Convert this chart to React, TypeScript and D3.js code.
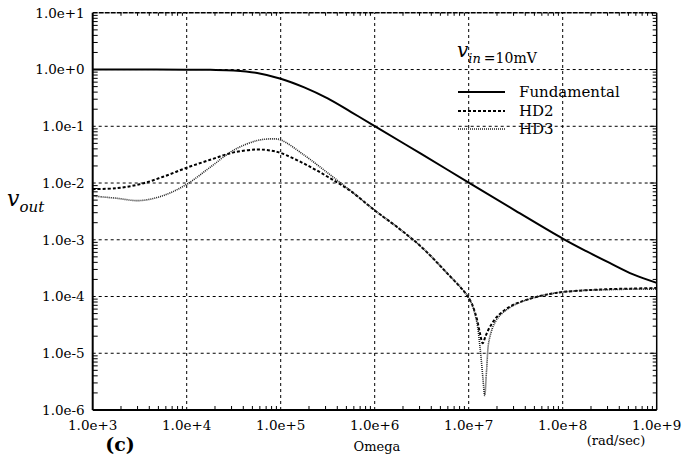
import React from "react";
import * as d3 from "d3";

// omega (rad/sec) and magnitudes
const fundOmega = [1e3, 3.16e3, 1e4, 1.78e4, 3.16e4, 5.62e4, 1e5, 1.78e5, 3.16e5, 5.62e5, 1e6, 3.16e6, 1e7, 3.16e7, 1e8, 1.78e8, 3.16e8, 5.62e8, 1e9];
const fundValues = [1.0, 1.0, 0.995, 0.989, 0.966, 0.871, 0.69, 0.485, 0.31, 0.178, 0.101, 0.0322, 0.0102, 3.24e-3, 1.05e-3, 6.3e-4, 3.9e-4, 2.45e-4, 1.74e-4];

const hd2Omega = [1e3, 1.78e3, 3.16e3, 5.62e3, 1e4, 1.78e4, 3.16e4, 5.62e4, 7.94e4, 1e5, 1.78e5, 3.16e5, 5.62e5, 1e6, 1.78e6, 3.16e6, 5.62e6, 1e7, 1.2e7, 1.32e7, 1.41e7, 1.51e7, 1.66e7, 2e7, 2.82e7, 4.47e7, 7.08e7, 1e8, 1.78e8, 3.16e8, 5.62e8, 1e9];
const hd2Values = [7.8e-3, 8.1e-3, 9.5e-3, 1.29e-2, 1.86e-2, 2.57e-2, 3.47e-2, 3.89e-2, 3.72e-2, 3.39e-2, 2.19e-2, 1.29e-2, 7.1e-3, 3.3e-3, 1.62e-3, 7.4e-4, 2.8e-4, 9.5e-5, 4.5e-5, 2.2e-5, 1.5e-5, 2.0e-5, 2.8e-5, 4.4e-5, 6.8e-5, 9.1e-5, 1.1e-4, 1.2e-4, 1.29e-4, 1.35e-4, 1.38e-4, 1.41e-4];

const hd3Omega = [1e3, 1.78e3, 3.16e3, 5.62e3, 1e4, 1.78e4, 3.16e4, 5.62e4, 7.94e4, 1e5, 1.78e5, 3.16e5, 5.62e5, 1e6, 1.78e6, 3.16e6, 5.62e6, 1e7, 1.2e7, 1.32e7, 1.41e7, 1.48e7, 1.55e7, 1.66e7, 2e7, 2.82e7, 4.47e7, 7.08e7, 1e8, 1.78e8, 3.16e8, 5.62e8, 1e9];
const hd3Values = [5.9e-3, 5.4e-3, 4.9e-3, 6.0e-3, 9.5e-3, 1.9e-2, 3.8e-2, 5.6e-2, 6.0e-2, 5.75e-2, 3.1e-2, 1.51e-2, 7.2e-3, 3.3e-3, 1.62e-3, 7.4e-4, 2.8e-4, 9.5e-5, 4.0e-5, 1.26e-5, 4.0e-6, 1.8e-6, 5.0e-6, 1.8e-5, 4.0e-5, 6.6e-5, 9.1e-5, 1.1e-4, 1.2e-4, 1.29e-4, 1.32e-4, 1.35e-4, 1.35e-4];

const xTicks = [1e3, 1e4, 1e5, 1e6, 1e7, 1e8, 1e9];
const xTickLabels = ["1.0e+3", "1.0e+4", "1.0e+5", "1.0e+6", "1.0e+7", "1.0e+8", "1.0e+9"];
const yTicks = [1e-6, 1e-5, 1e-4, 1e-3, 1e-2, 1e-1, 1e0, 1e1];
const yTickLabels = ["1.0e-6", "1.0e-5", "1.0e-4", "1.0e-3", "1.0e-2", "1.0e-1", "1.0e+0", "1.0e+1"];

const legendNames = ["Fundamental", "HD2", "HD3"];

const FONT = "'DejaVu Serif', serif";

export default function App() {
  const width = 682;
  const height = 462;
  const margin = { top: 12.8, right: 25.3, bottom: 52, left: 92.7 };

  const x = d3.scaleLog().domain([1e3, 1e9]).range([margin.left, width - margin.right]);
  const y = d3.scaleLog().domain([1e-6, 1e1]).range([height - margin.bottom, margin.top]);

  const x0 = x.range()[0], x1 = x.range()[1];
  const y0 = y.range()[0], y1 = y.range()[1];

  const line = d3
    .line<[number, number]>()
    .x((d) => x(d[0]))
    .y((d) => y(d[1]))
    .curve(d3.curveCatmullRom.alpha(0.5));

  const series = [
    { pts: fundOmega.map((w, i) => [w, fundValues[i]] as [number, number]), dash: null, sw: 2, color: "#000" },
    { pts: hd2Omega.map((w, i) => [w, hd2Values[i]] as [number, number]), dash: "3,2", sw: 2, color: "#000" },
    { pts: hd3Omega.map((w, i) => [w, hd3Values[i]] as [number, number]), dash: "1,1", sw: 1.6, color: "#222" },
  ];

  // minor ticks at 2..9 of each decade
  const xMinor: number[] = [];
  for (let e = 3; e < 9; e++) for (let k = 2; k <= 9; k++) xMinor.push(k * 10 ** e);
  const yMinor: number[] = [];
  for (let e = -6; e < 1; e++) for (let k = 2; k <= 9; k++) yMinor.push(k * 10 ** e);

  const legendX = 458;
  const legendY = [92, 111, 129];

  return (
    <svg width={width} height={height} style={{ position: "absolute", left: 0, top: 0, background: "#fff" }} fontFamily={FONT}>
      {/* grid */}
      <g stroke="#000" strokeWidth={1} strokeDasharray="3,3">
        {xTicks.slice(1, -1).map((t) => (
          <line key={"gx" + t} x1={x(t)} x2={x(t)} y1={y0} y2={y1} />
        ))}
        {yTicks.slice(1, -1).map((t) => (
          <line key={"gy" + t} x1={x0} x2={x1} y1={y(t)} y2={y(t)} />
        ))}
      </g>
      <line x1={x0} x2={x1} y1={y1} y2={y1} stroke="#000" strokeWidth={1.5} strokeDasharray="5,1" />

      {/* minor ticks */}
      <g stroke="#000" strokeWidth={1}>
        {xMinor.map((t) => (
          <line key={"mx" + t} x1={x(t)} x2={x(t)} y1={y0} y2={y0 - 4} />
        ))}
        {xMinor.map((t) => (
          <line key={"mxt" + t} x1={x(t)} x2={x(t)} y1={y1} y2={y1 + 3} />
        ))}
        {yMinor.map((t) => (
          <line key={"myl" + t} x1={x0} x2={x0 + 5} y1={y(t)} y2={y(t)} />
        ))}
        {yMinor.map((t) => (
          <line key={"myr" + t} x1={x1} x2={x1 - 4} y1={y(t)} y2={y(t)} />
        ))}
        {yTicks.map((t) => (
          <line key={"Myr" + t} x1={x1} x2={x1 - 7} y1={y(t)} y2={y(t)} />
        ))}
      </g>

      {/* frame */}
      <line x1={x0} x2={x0} y1={y0} y2={y1} stroke="#000" strokeWidth={2} />
      <line x1={x0} x2={x1} y1={y0} y2={y0} stroke="#000" strokeWidth={2} />
      <line x1={x1} x2={x1} y1={y0} y2={y1} stroke="#000" strokeWidth={1.5} />

      {/* curves */}
      {series.map((s, i) => (
        <path
          key={i}
          d={line(s.pts) || ""}
          fill="none"
          stroke={s.color}
          strokeWidth={s.sw}
          strokeDasharray={s.dash || undefined}
        />
      ))}

      {/* tick labels */}
      {yTicks.map((t, i) => (
        <text key={"yl" + t} x={x0 - 8} y={y(t)} dy="0.36em" textAnchor="end" fontSize={13.5}>
          {yTickLabels[i]}
        </text>
      ))}
      {xTicks.map((t, i) => (
        <text key={"xl" + t} x={x(t)} y={y0 + 20} textAnchor="middle" fontSize={13.5}>
          {xTickLabels[i]}
        </text>
      ))}

      {/* axis titles */}
      <text x={7} y={206} fontSize={22} fontStyle="italic">
        v<tspan fontSize={15} dy={6}>out</tspan>
      </text>
      <text x={377} y={451} textAnchor="middle" fontSize={13}>Omega</text>
      <text x={616} y={445} textAnchor="middle" fontSize={13}>(rad/sec)</text>
      <text x={120} y={451} textAnchor="middle" fontSize={19} fontWeight="bold">(c)</text>

      {/* legend */}
      <text x={457} y={57} fontSize={20} fontStyle="italic">
        v<tspan fontSize={13} dy={6}>in</tspan>
        <tspan fontStyle="normal" fontSize={14} dx={3}>=10mV</tspan>
      </text>
      {series.map((s, i) => (
        <g key={"lg" + i}>
          <line
            x1={legendX}
            x2={legendX + 47}
            y1={legendY[i]}
            y2={legendY[i]}
            stroke={s.color}
            strokeWidth={s.sw}
            strokeDasharray={s.dash || undefined}
          />
          <text x={519} y={legendY[i]} dy="0.36em" fontSize={15}>
            {legendNames[i]}
          </text>
        </g>
      ))}
    </svg>
  );
}
